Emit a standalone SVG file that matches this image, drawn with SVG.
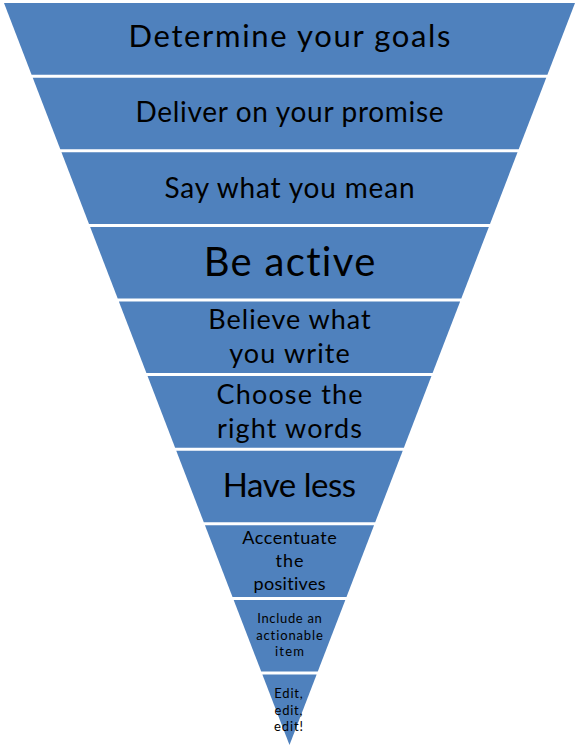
<svg xmlns="http://www.w3.org/2000/svg" width="579" height="750" viewBox="0 0 579 750">
<style>
.band{fill:#4F81BD;}
text{font-family:Lato,"Open Sans","DejaVu Sans",sans-serif;fill:#000;text-anchor:middle;font-variant-ligatures:none;}
</style>
<rect width="579" height="750" fill="#fff"/>
<g id="n1"><polygon class="band" points="4,3 575,3 547.41,74.7 31.59,74.7"/><text x="289.5" y="47.3" font-size="31" textLength="322">Determine your goals</text></g>
<g id="n2"><polygon class="band" points="32.74,77.7 546.26,77.7 518.71,149.3 60.29,149.3"/><text x="289.5" y="122.3" font-size="28" textLength="308">Deliver on your promise</text></g>
<g id="n3"><polygon class="band" points="61.45,152.3 517.55,152.3 490,223.9 89,223.9"/><text x="289.5" y="198.3" font-size="28" textLength="250">Say what you mean</text></g>
<g id="n4"><polygon class="band" points="90.15,226.9 488.85,226.9 461.3,298.5 117.7,298.5"/><text x="289.5" y="275.7" font-size="40" textLength="171.6">Be active</text></g>
<g id="n5"><polygon class="band" points="118.85,301.5 460.15,301.5 432.6,373.1 146.4,373.1"/><text x="289.5" y="329.3" font-size="27" textLength="162.3">Believe what</text><text x="289.5" y="362.5" font-size="27" textLength="120.7">you write</text></g>
<g id="n6"><polygon class="band" points="147.56,376.1 431.44,376.1 403.89,447.7 175.11,447.7"/><text x="289.5" y="404" font-size="27" textLength="146">Choose the</text><text x="289.5" y="437.5" font-size="27" textLength="145">right words</text></g>
<g id="n7"><polygon class="band" points="176.26,450.7 402.74,450.7 375.19,522.3 203.81,522.3"/><text x="289.5" y="497.3" font-size="33" textLength="133.3">Have less</text></g>
<g id="n8"><polygon class="band" points="204.96,525.3 374.04,525.3 346.49,596.9 232.51,596.9"/><text x="289.5" y="544.3" font-size="18" textLength="94.3">Accentuate</text><text x="289.5" y="567" font-size="18" textLength="28">the</text><text x="289.5" y="590" font-size="18" textLength="72">positives</text></g>
<g id="n9"><polygon class="band" points="233.67,599.9 345.33,599.9 317.78,671.5 261.22,671.5"/><text x="289.5" y="623.3" font-size="13" textLength="64.7">Include an</text><text x="289.5" y="640" font-size="13" textLength="66.7">actionable</text><text x="289.5" y="656" font-size="13" textLength="29">item</text></g>
<g id="n10"><polygon class="band" points="262.37,674.5 316.63,674.5 289.5,745"/><text x="288.5" y="698.3" font-size="13" textLength="28.4">Edit,</text><text x="288.5" y="715" font-size="13" textLength="28">edit,</text><text x="288.5" y="731" font-size="13" textLength="29">edit!</text></g>
<g id="connectors"></g>
</svg>
